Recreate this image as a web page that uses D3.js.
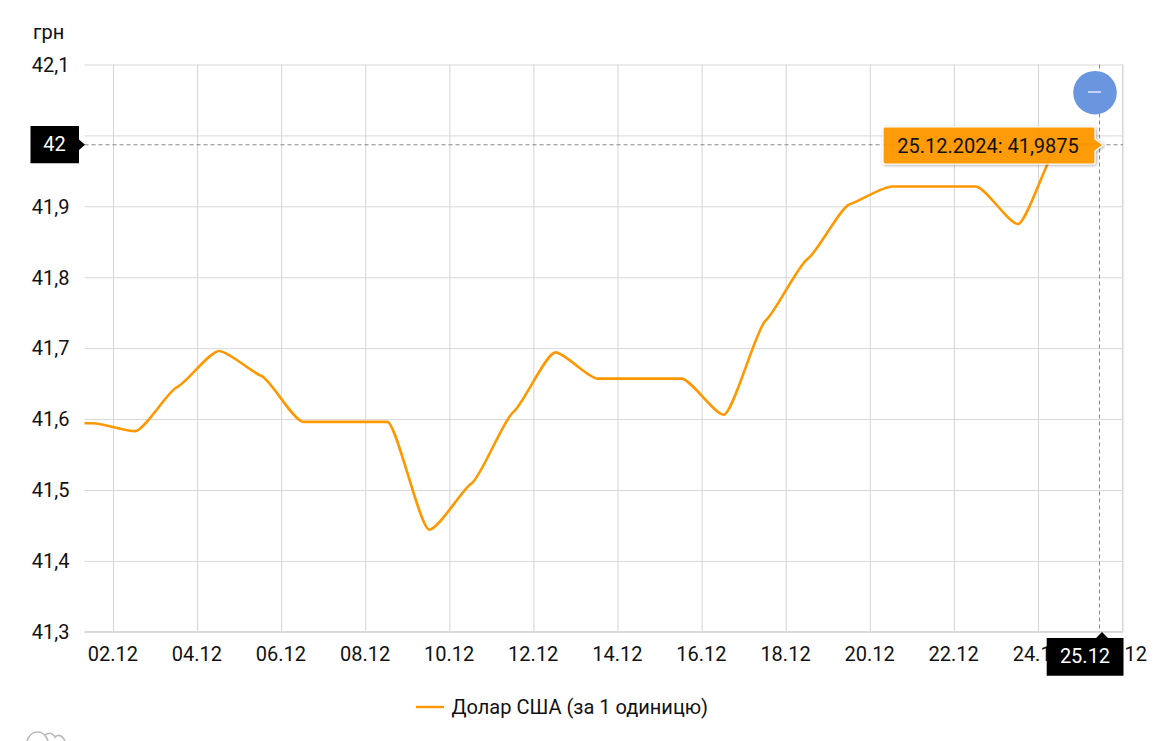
<!DOCTYPE html>
<html><head><meta charset="utf-8">
<script src="https://cdn.jsdelivr.net/npm/d3@7"></script>
<style>
html,body{margin:0;padding:0;background:#fff}
svg{display:block}
text{font-family:Roboto,sans-serif;font-size:20px;fill:#111}
</style></head><body><svg id="c" width="1171" height="741"></svg>
<script>
const days=[0,1,2,3,4,5,6,7,8,9,10,11,12,13,14,15,16,17,18,19,20,21,22,23,24,25];
const rates=[41.594,41.594,41.583,41.645,41.696,41.661,41.596,41.596,41.596,41.444,41.509,41.61,41.694,41.657,41.657,41.657,41.606,41.739,41.826,41.903,41.928,41.928,41.928,41.875,41.9875,41.9875];
const yTicks=[41.3,41.4,41.5,41.6,41.7,41.8,41.9,42,42.1];
const xTickDays=[2,4,6,8,10,12,14,16,18,20,22,24,26];
const unitLabel="грн";
const seriesName="Долар США (за 1 одиницю)";
const hoverDate="25.12.2024";
const hoverValue="41,9875";
const hoverDay=25, crossLevel=42;

const L=84.5,R=1123,T=64.5,B=631.8;
const svg=d3.select("#c");
const x=d3.scaleLinear().domain([2,25]).range([135,1102]);
const y=d3.scaleLinear().domain([41.3,42.1]).range([B,T]);
const fmtY=v=>String(+v.toFixed(1)).replace(".",",");
const fmtX=d=>String(d).padStart(2,"0")+".12";
const tickShift=-22;

// curve: monotone tangents, softened at every point with short handles
function softCurve(context){
  let pts=[];
  return {
    areaStart(){},areaEnd(){},
    lineStart(){pts=[];},
    point(px,py){pts.push([+px,+py]);},
    lineEnd(){
      const n=pts.length; if(!n) return;
      const s=d3.range(n-1).map(i=>(pts[i+1][1]-pts[i][1])/(pts[i+1][0]-pts[i][0]));
      const m=pts.map((p,i)=>{
        if(i===0||i===n-1) return 0;
        const a=s[i-1],b=s[i];
        return a*b<=0?0:0.45*2*a*b/(a+b);
      });
      context.moveTo(pts[0][0],pts[0][1]);
      for(let i=0;i<n-1;i++){
        const dx=pts[i+1][0]-pts[i][0], h=dx*0.22;
        context.bezierCurveTo(pts[i][0]+h,pts[i][1]+m[i]*h,pts[i+1][0]-h,pts[i+1][1]-m[i+1]*h,pts[i+1][0],pts[i+1][1]);
      }
    }
  };
}

const defs=svg.append("defs");
defs.append("clipPath").attr("id","plot").append("rect").attr("x",L).attr("y",T-5).attr("width",R-L).attr("height",B-T+10);
const f=defs.append("filter").attr("id","sh").attr("x","-5%").attr("y","-20%").attr("width","110%").attr("height","140%");
f.append("feDropShadow").attr("dx",1).attr("dy",1).attr("stdDeviation",1.5).attr("flood-color","#000").attr("flood-opacity",.35);

// y axis + horizontal grid
const gy=svg.append("g").attr("transform",`translate(${L},0)`)
 .call(d3.axisLeft(y).tickValues(yTicks).tickFormat(fmtY).tickSize(-(R-L)).tickPadding(15));
gy.select(".domain").remove();
gy.selectAll("line").attr("stroke","#d8d8d8");
gy.selectAll("text").attr("dy","0.34em").attr("x",-15).filter(d=>d===crossLevel).remove();

// x axis + vertical grid
const gx=svg.append("g").attr("transform",`translate(${tickShift},${B})`)
 .call(d3.axisBottom(x).tickValues(xTickDays).tickFormat(fmtX).tickSize(-(B-T)).tickPadding(15));
gx.select(".domain").remove();
gx.selectAll("line").attr("stroke","#d4d4d4");
gx.selectAll("text").attr("dy","0.71em").attr("dx",-0.7).attr("text-anchor","middle");
svg.append("line").attr("x1",R).attr("x2",R).attr("y1",T).attr("y2",B).attr("stroke","#d8d8d8");
svg.append("line").attr("x1",L).attr("x2",R).attr("y1",B).attr("y2",B).attr("stroke","#d8d8d8").attr("stroke-width",1.5);

svg.append("text").attr("x",33).attr("y",39).text(unitLabel);

// series
const line=d3.line().x((d,i)=>x(days[i])).y(d=>y(d)).curve(softCurve);
svg.append("path").datum(rates).attr("clip-path","url(#plot)").attr("d",line)
 .attr("fill","none").attr("stroke","#ff9800").attr("stroke-width",2.6).attr("stroke-linejoin","round");

// crosshair
const cx=x(hoverDay)-2.5, cy=y(rates[days.indexOf(hoverDay)]);
const h=svg.append("line").attr("x1",L).attr("x2",R).attr("y1",cy+.5).attr("y2",cy+.5);
const v=svg.append("line").attr("x1",cx).attr("x2",cx).attr("y1",T).attr("y2",B);
[h,v].forEach(s=>s.attr("stroke","#888").attr("stroke-width",1).attr("stroke-dasharray","4 3"));

// button
svg.append("circle").attr("cx",1095).attr("cy",92.7).attr("r",21.8).attr("fill","#6a96e0");
svg.append("line").attr("x1",1088).attr("x2",1101).attr("y1",92).attr("y2",92).attr("stroke","#fff").attr("stroke-width",1.2);

// tooltip
const tipX=x(hoverDay)+1;
const tipPath=`M883,129 a2,2 0 0 1 2,-2 H1093 a2,2 0 0 1 2,2 V139 L${tipX},145 L1095,151 V162 a2,2 0 0 1 -2,2 H885 a2,2 0 0 1 -2,-2 Z`;
svg.append("path").attr("d",tipPath).attr("fill","#ff9800").attr("fill-opacity",.95).attr("stroke","#fff").attr("stroke-width",1.2).attr("filter","url(#sh)");
svg.append("text").attr("x",988).attr("y",153).attr("text-anchor","middle").text(`${hoverDate}: ${hoverValue}`);

// y pointer box
svg.append("path").attr("d",`M30.5,126 H79 V139.5 L85,144.7 L79,150 V163.3 H30.5 Z`).attr("fill","#000");
svg.append("text").attr("x",54.5).attr("y",150.5).attr("text-anchor","middle").style("fill","#fff").text(fmtY(crossLevel));

// x pointer box
const ax=x(hoverDay);
svg.append("path").attr("d",`M1046.7,638 H${ax-6} L${ax},632 L${ax+6},638 H1123.5 V675.8 H1046.7 Z`).attr("fill","#000");
svg.append("text").attr("x",1085).attr("y",662.5).attr("text-anchor","middle").style("fill","#fff").text(fmtX(hoverDay));

// legend
svg.append("line").attr("x1",416).attr("x2",444).attr("y1",707).attr("y2",707).attr("stroke","#ff9800").attr("stroke-width",2.4);
svg.append("text").attr("x",451.5).attr("y",714).text(seriesName);

// corner mark
svg.append("path").attr("d","M27,741 C31,729 44,729 48,741 M44,736 C48,732 52,732 56,738 M55,737 C58,734 62,735 65,741")
 .attr("fill","none").attr("stroke","#bbb").attr("stroke-width",1.6);
</script></body></html>
